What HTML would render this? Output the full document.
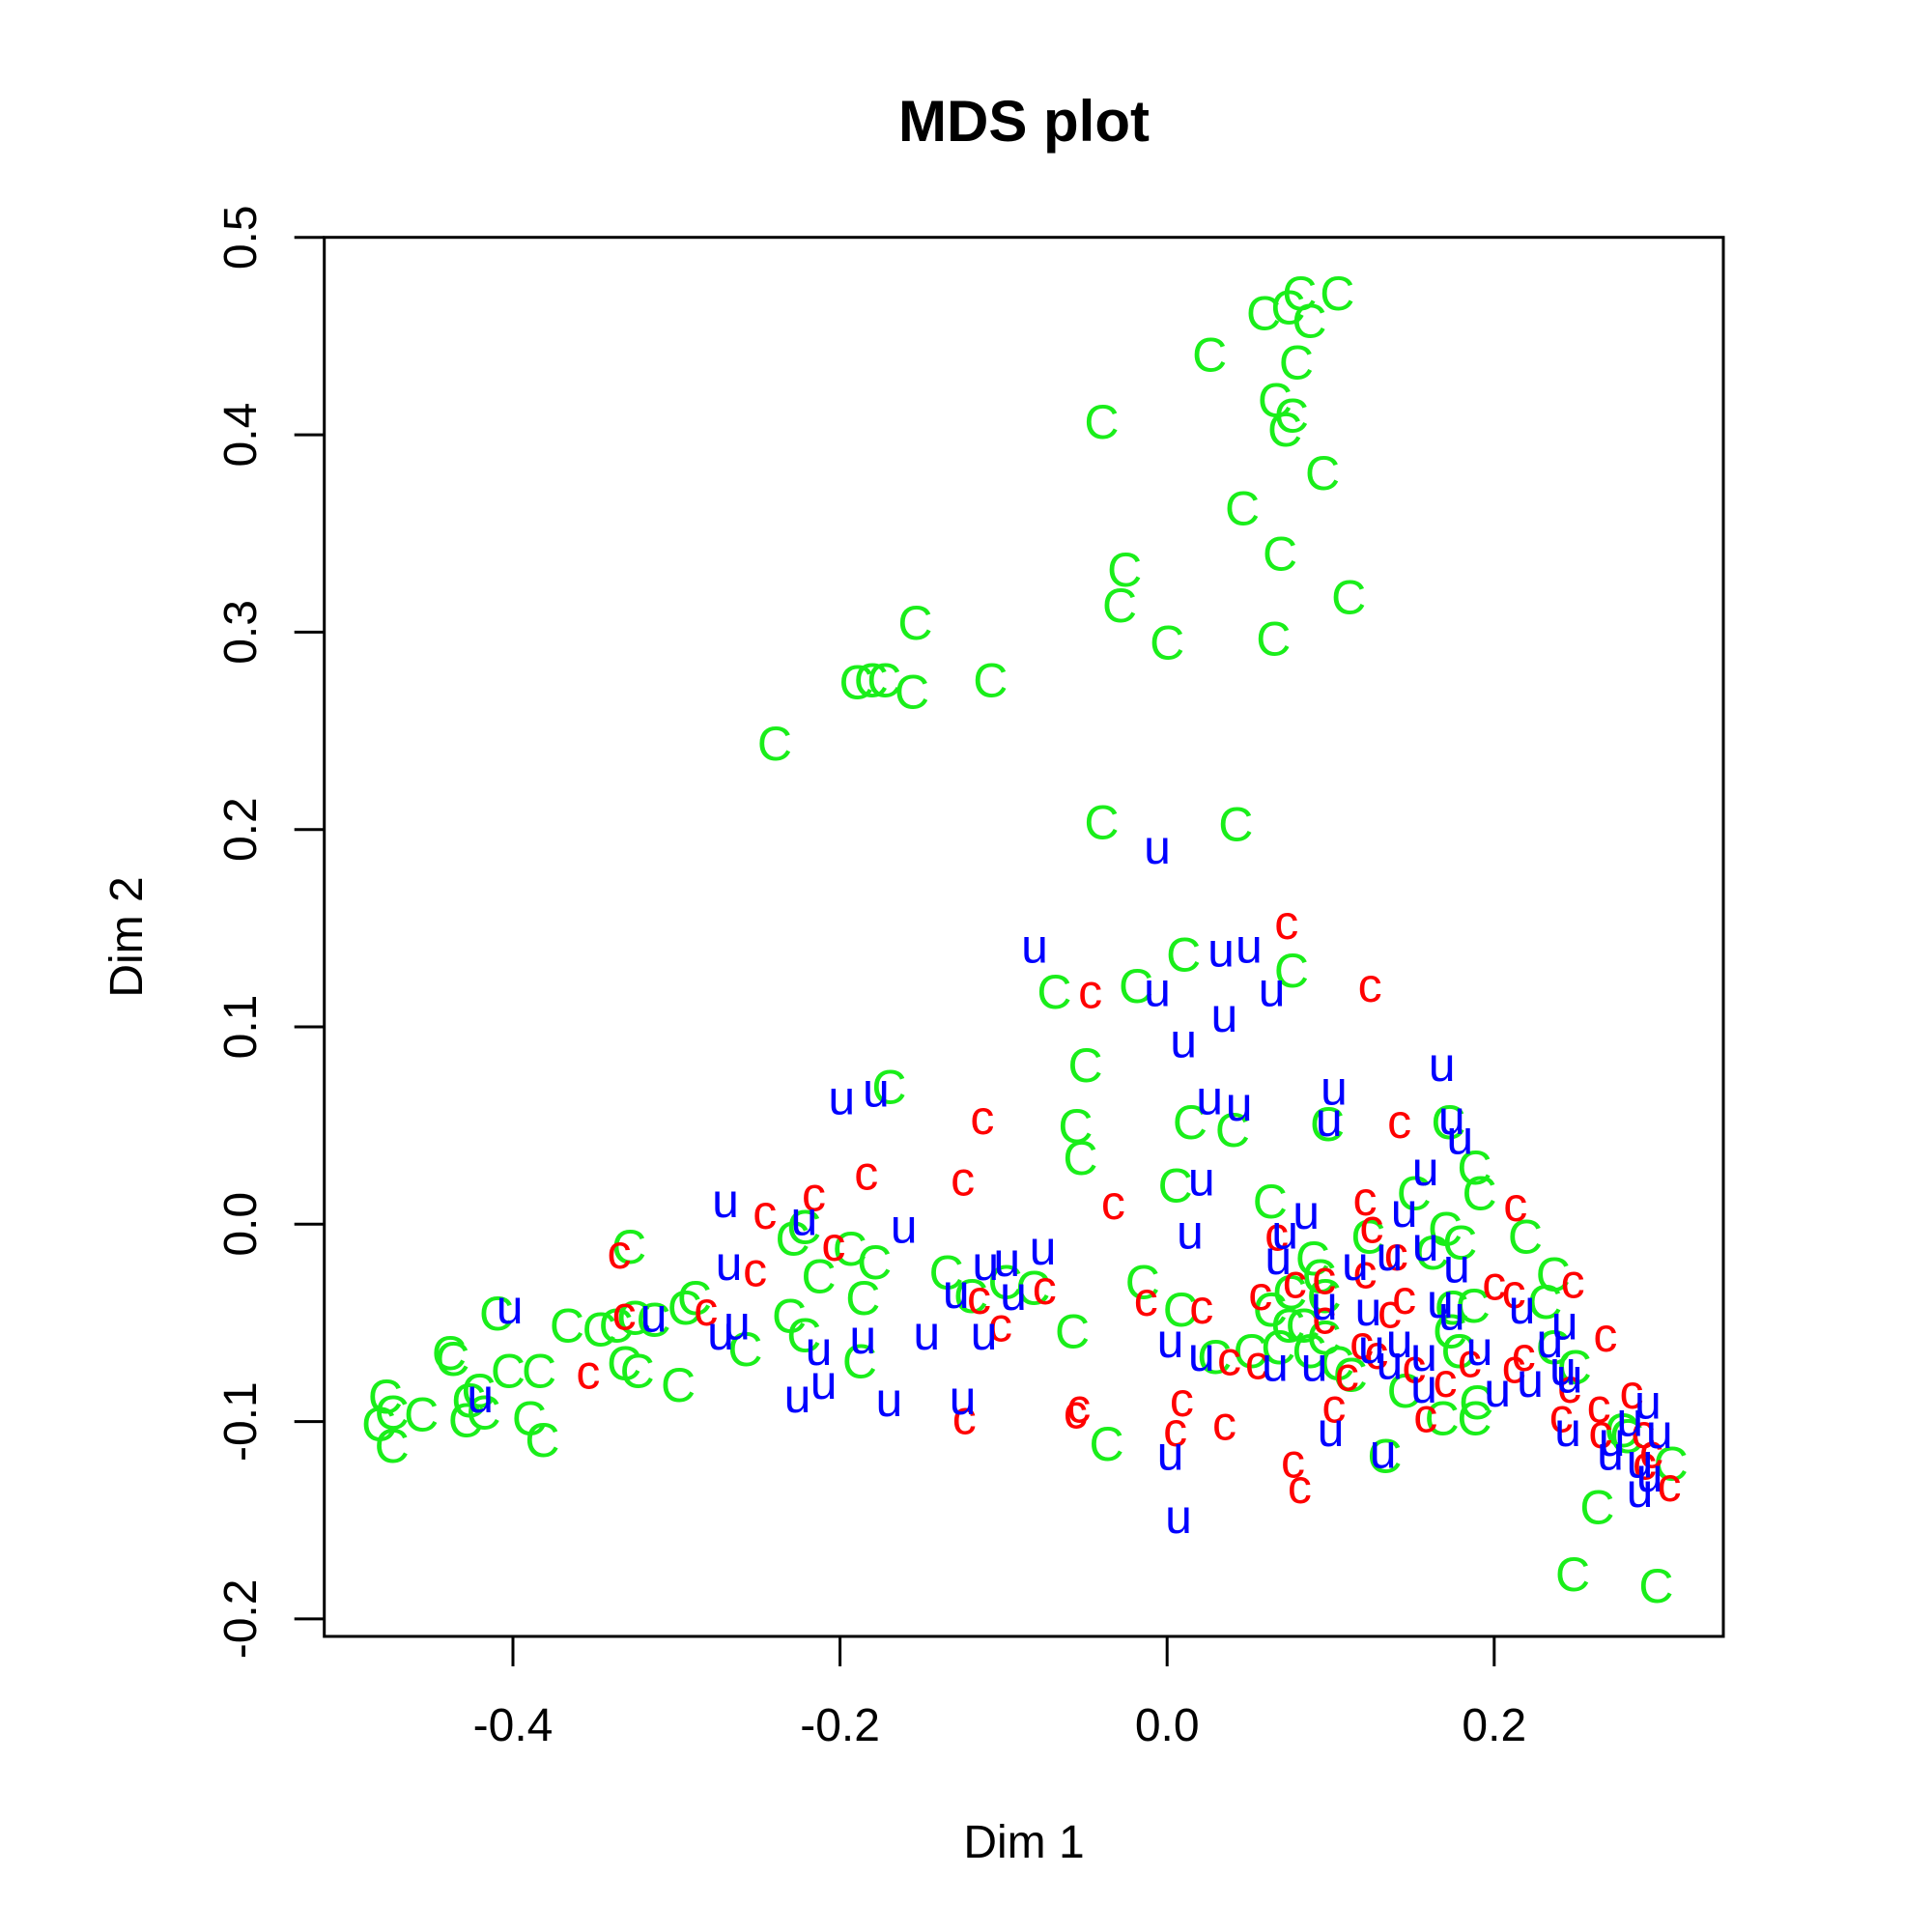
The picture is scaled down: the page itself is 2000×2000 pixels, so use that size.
<!DOCTYPE html>
<html><head><meta charset="utf-8"><title>MDS plot</title>
<style>html,body{margin:0;padding:0;background:#fff}svg{display:block}text{font-family:"Liberation Sans",Arial,sans-serif}</style>
</head><body>
<svg id="chart" width="2000" height="2000" viewBox="0 0 2000 2000" xmlns="http://www.w3.org/2000/svg">
<rect x="0" y="0" width="2000" height="2000" fill="#fff"/>
<text x="1060" y="146" font-size="60" font-weight="bold" text-anchor="middle">MDS plot</text>
<text x="1060" y="1923" font-size="48" text-anchor="middle">Dim 1</text>
<text x="0" y="0" font-size="48" text-anchor="middle" transform="translate(147,970) rotate(-90)">Dim 2</text>
<g id="axes"></g>
<g id="points"></g>
<rect x="335.7" y="245.7" width="1448.3" height="1448.3" fill="none" stroke="#000" stroke-width="3"/>
</svg>
<script>
const xTicks = [-0.4, -0.2, 0.0, 0.2];
const xTickLabels = ["-0.4", "-0.2", "0.0", "0.2"];
const yTicks = [-0.2, -0.1, 0.0, 0.1, 0.2, 0.3, 0.4, 0.5];
const yTickLabels = ["-0.2", "-0.1", "0.0", "0.1", "0.2", "0.3", "0.4", "0.5"];

const greenX = [0.081,0.104,0.059,0.074,0.087,0.026,0.079,0.066,0.076,0.072,-0.040,0.095,0.046,0.069,-0.026,-0.029,0.111,-0.154,0.000,0.065,-0.190,-0.181,-0.173,-0.156,-0.108,-0.240,-0.040,0.042,0.010,0.076,-0.069,-0.019,-0.050,-0.170,-0.056,-0.053,0.014,0.040,0.098,0.172,0.188,0.191,0.005,0.063,0.151,0.123,0.170,0.179,0.162,0.219,0.236,0.231,0.089,0.093,0.096,0.075,0.063,0.074,0.083,0.087,0.068,0.051,0.029,0.008,-0.015,0.096,0.104,0.112,0.174,0.187,0.173,0.178,0.236,0.249,0.145,0.168,0.189,0.188,0.133,0.278,0.281,0.308,0.263,0.248,0.299,-0.037,-0.058,-0.135,-0.120,-0.099,-0.082,-0.179,-0.194,-0.213,-0.229,-0.222,-0.186,-0.231,-0.222,-0.188,-0.258,-0.329,-0.295,-0.289,-0.314,-0.326,-0.337,-0.347,-0.367,-0.332,-0.324,-0.299,-0.410,-0.403,-0.384,-0.439,-0.437,-0.421,-0.427,-0.418,-0.429,-0.390,-0.382,-0.456,-0.478,-0.474,-0.482,-0.474];
const greenY = [0.472,0.472,0.462,0.465,0.458,0.441,0.437,0.418,0.410,0.403,0.407,0.381,0.363,0.340,0.332,0.314,0.318,0.305,0.295,0.297,0.275,0.276,0.276,0.270,0.276,0.244,0.204,0.203,0.137,0.129,0.118,0.121,0.081,0.070,0.050,0.034,0.052,0.048,0.051,0.052,0.029,0.016,0.020,0.012,0.016,-0.006,-0.002,-0.009,-0.014,-0.006,-0.025,-0.039,-0.017,-0.026,-0.036,-0.034,-0.043,-0.051,-0.051,-0.064,-0.062,-0.064,-0.067,-0.043,-0.029,-0.057,-0.070,-0.076,-0.042,-0.041,-0.054,-0.064,-0.062,-0.072,-0.084,-0.098,-0.090,-0.098,-0.117,-0.104,-0.107,-0.121,-0.143,-0.177,-0.183,-0.111,-0.054,-0.024,-0.036,-0.029,-0.032,-0.019,-0.012,-0.026,-0.007,-0.001,-0.037,-0.046,-0.056,-0.069,-0.063,-0.011,-0.042,-0.037,-0.048,-0.047,-0.051,-0.053,-0.051,-0.070,-0.074,-0.081,-0.045,-0.074,-0.074,-0.065,-0.068,-0.084,-0.089,-0.095,-0.099,-0.098,-0.109,-0.096,-0.087,-0.095,-0.101,-0.112];

const redX = [0.073,-0.047,0.124,-0.113,-0.184,-0.125,-0.216,-0.246,-0.033,0.142,0.121,0.125,0.213,0.067,-0.204,-0.252,-0.335,-0.282,-0.332,-0.354,-0.115,-0.102,-0.075,-0.013,0.021,0.057,0.078,0.096,0.121,0.140,0.136,0.145,0.200,0.212,0.248,0.268,0.096,0.119,0.128,0.110,0.038,0.055,0.151,0.170,0.185,0.212,0.218,0.246,0.241,0.264,0.265,0.284,0.291,0.292,0.307,0.296,0.102,0.158,0.009,0.035,0.005,-0.054,-0.056,-0.124,0.077,0.081];
const redY = [0.151,0.116,0.119,0.052,0.024,0.021,0.013,0.004,0.009,0.050,0.011,-0.003,0.008,-0.007,-0.012,-0.025,-0.016,-0.045,-0.047,-0.077,-0.039,-0.053,-0.034,-0.040,-0.044,-0.037,-0.031,-0.029,-0.026,-0.017,-0.046,-0.039,-0.032,-0.036,-0.031,-0.058,-0.049,-0.062,-0.067,-0.078,-0.070,-0.072,-0.074,-0.081,-0.071,-0.074,-0.068,-0.084,-0.099,-0.094,-0.107,-0.087,-0.107,-0.123,-0.134,-0.117,-0.094,-0.099,-0.091,-0.103,-0.106,-0.094,-0.097,-0.100,-0.122,-0.135];

const blueX = [-0.006,-0.081,0.033,0.050,-0.006,0.064,0.035,0.010,0.168,0.102,-0.199,-0.178,0.026,0.044,0.099,0.174,0.179,0.158,0.021,-0.270,-0.222,-0.161,0.014,0.085,0.072,0.145,0.158,-0.076,-0.111,-0.098,-0.268,0.068,0.115,0.136,0.177,-0.129,-0.094,-0.402,-0.314,-0.263,-0.273,0.096,0.123,0.167,0.174,0.217,0.243,0.234,-0.147,-0.112,-0.186,-0.213,0.002,0.021,0.066,0.090,0.125,0.142,0.136,0.157,0.191,0.157,0.202,0.222,0.242,0.246,-0.226,-0.210,-0.170,-0.125,-0.420,0.245,0.100,0.132,0.002,0.007,0.271,0.283,0.294,0.301,0.289,0.295,0.289,0.272];
const blueY = [0.189,0.139,0.137,0.139,0.117,0.117,0.104,0.091,0.079,0.067,0.062,0.066,0.062,0.059,0.051,0.052,0.042,0.026,0.021,0.010,0.001,-0.003,-0.006,0.004,-0.006,0.005,-0.012,-0.014,-0.022,-0.020,-0.022,-0.019,-0.022,-0.017,-0.023,-0.036,-0.037,-0.044,-0.048,-0.052,-0.057,-0.042,-0.045,-0.041,-0.047,-0.044,-0.052,-0.061,-0.057,-0.057,-0.059,-0.065,-0.061,-0.068,-0.073,-0.073,-0.064,-0.061,-0.072,-0.068,-0.065,-0.084,-0.086,-0.081,-0.075,-0.079,-0.089,-0.082,-0.091,-0.090,-0.089,-0.106,-0.106,-0.117,-0.118,-0.150,-0.118,-0.101,-0.092,-0.107,-0.122,-0.129,-0.137,-0.111];

const X0 = 1208.2, XS = 1693;
const Y0 = 1267.3, YS = 2043;
function sx(v){ return X0 + v*XS; }
function sy(v){ return Y0 - v*YS; }
const NS = "http://www.w3.org/2000/svg";
const axes = document.getElementById('axes');
const pts = document.getElementById('points');

function mk(tag, attrs, parent){
  const e = document.createElementNS(NS, tag);
  for (const k in attrs) e.setAttribute(k, attrs[k]);
  parent.appendChild(e);
  return e;
}

xTicks.forEach((v,i)=>{
  const l = mk('line',{x1:sx(v),x2:sx(v),y1:1694,y2:1725,stroke:'#000','stroke-width':3},axes);
  
  
  const t = mk('text',{x:sx(v),y:1802,'font-size':48,'text-anchor':'middle'},axes);
  
  
  t.textContent = xTickLabels[i];
});
yTicks.forEach((v,i)=>{
  const l = mk('line',{x1:304.7,x2:335.7,y1:sy(v),y2:sy(v),stroke:'#000','stroke-width':3},axes);
  
  
  const t = mk('text',{x:0,y:0,'font-size':48,'text-anchor':'middle',transform:'translate(265,'+sy(v)+') rotate(-90)'},axes);
  
  
  t.textContent = yTickLabels[i];
});

function drawSeries(xs, ys, ch, color, dy, name){
  for (let i=0;i<xs.length;i++){
    const t = mk('text',{x:sx(xs[i]),y:sy(ys[i])+dy,'font-size':50,'text-anchor':'middle',fill:color},pts);
    
    
    t.textContent = ch;
  }
}
drawSeries(greenX, greenY, 'C', '#1aee1a', 18, 'point-green-C');
drawSeries(redX, redY, 'c', '#ff0000', 13, 'point-red-c');
drawSeries(blueX, blueY, 'u', '#0000ff', 13, 'point-blue-u');
</script>
</body></html>
